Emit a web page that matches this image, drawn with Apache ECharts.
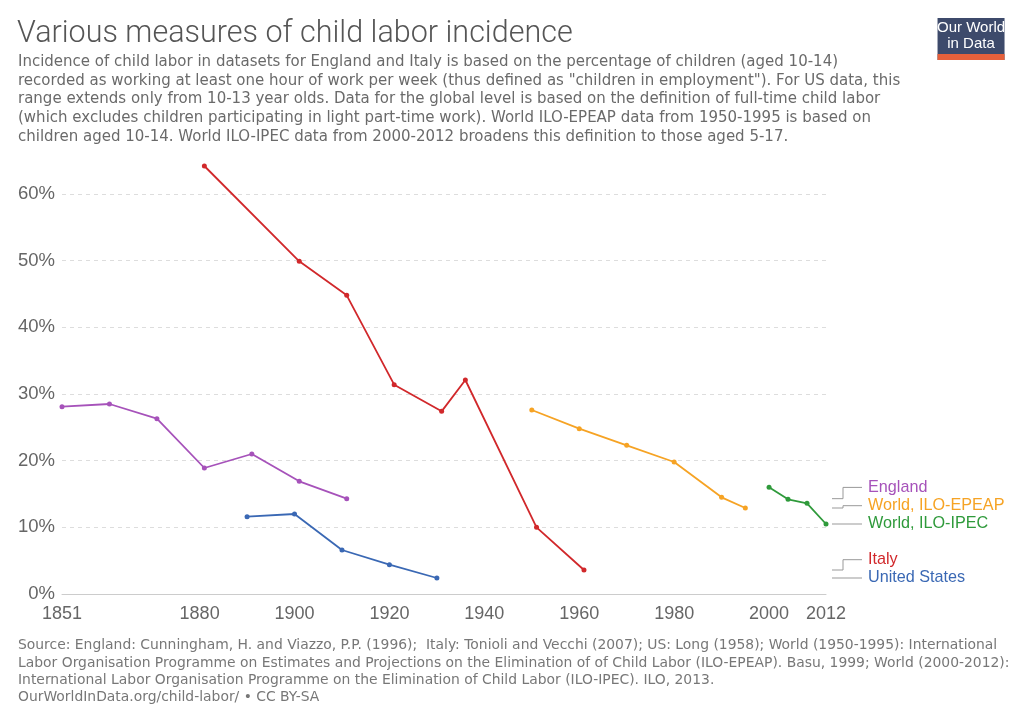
<!DOCTYPE html>
<html>
<head>
<meta charset="utf-8">
<script src="https://cdn.jsdelivr.net/npm/echarts@6/dist/echarts.min.js"></script>
<style>
html, body { margin: 0; padding: 0; background: #fff; }
#main { width: 1024px; height: 723px; }
</style>
</head>
<body>
<div id="main"></div>
<script>
// data (share of children working, %)
var englandYears = [1851, 1861, 1871, 1881, 1891, 1901, 1911];
var englandValues = [28.1, 28.5, 26.3, 18.9, 21.0, 16.9, 14.3];
var italyYears = [1881, 1901, 1911, 1921, 1931, 1936, 1951, 1961];
var italyValues = [64.2, 49.9, 44.8, 31.4, 27.4, 32.1, 10.0, 3.6];
var usYears = [1890, 1900, 1910, 1920, 1930];
var usValues = [11.6, 12.0, 6.6, 4.4, 2.4];
var epeapYears = [1950, 1960, 1970, 1980, 1990, 1995];
var epeapValues = [27.6, 24.8, 22.3, 19.8, 14.5, 12.9];
var ipecYears = [2000, 2004, 2008, 2012];
var ipecValues = [16.0, 14.2, 13.6, 10.5];

var xTicks = [1851, 1880, 1900, 1920, 1940, 1960, 1980, 2000, 2012];
var yTicks = [0, 10, 20, 30, 40, 50, 60];

var seriesNames = ['England', 'Italy', 'United States', 'World, ILO-EPEAP', 'World, ILO-IPEC'];
var seriesColors = ['#a652ba', '#d1282b', '#3a68b4', '#f6a324', '#2f9a3b'];

var subtitle = 'Incidence of child labor in datasets for England and Italy is based on the percentage of children (aged 10-14)\n' +
    'recorded as working at least one hour of work per week (thus defined as "children in employment"). For US data, this\n' +
    'range extends only from 10-13 year olds. Data for the global level is based on the definition of full-time child labor\n' +
    '(which excludes children participating in light part-time work). World ILO-EPEAP data from 1950-1995 is based on\n' +
    'children aged 10-14. World ILO-IPEC data from 2000-2012 broadens this definition to those aged 5-17.';

var footer = 'Source: England: Cunningham, H. and Viazzo, P.P. (1996);  Italy: Tonioli and Vecchi (2007); US: Long (1958); World (1950-1995): International\n' +
    'Labor Organisation Programme on Estimates and Projections on the Elimination of of Child Labor (ILO-EPEAP). Basu, 1999; World (2000-2012):\n' +
    'International Labor Organisation Programme on the Elimination of Child Labor (ILO-IPEC). ILO, 2013.\n' +
    'OurWorldInData.org/child-labor/ \u2022 CC BY-SA';

function zip(xs, ys) {
    var out = [];
    for (var i = 0; i < xs.length; i++) {
        out.push([xs[i], ys[i]]);
    }
    return out;
}

var allData = [
    zip(englandYears, englandValues),
    zip(italyYears, italyValues),
    zip(usYears, usValues),
    zip(epeapYears, epeapValues),
    zip(ipecYears, ipecValues)
];

var font = '"Liberation Sans", Arial, sans-serif';
var wideFont = '"DejaVu Sans", "Liberation Sans", sans-serif';

var series = [];
for (var s = 0; s < seriesNames.length; s++) {
    series.push({
        name: seriesNames[s],
        type: 'line',
        data: allData[s],
        clip: false,
        symbol: 'circle',
        symbolSize: 5,
        showAllSymbol: true,
        color: seriesColors[s],
        lineStyle: { width: 1.8 },
        emphasis: { disabled: true },
        z: 3
    });
}

var chart = echarts.init(document.getElementById('main'));

var option = {
    backgroundColor: '#fff',
    animation: false,
    title: [{
        text: 'Various measures of child labor incidence',
        left: 17,
        top: 19,
        padding: 0,
        textStyle: { fontFamily: 'Roboto', fontWeight: 300, fontSize: 30.5, color: '#555' }
    }, {
        text: subtitle,
        left: 18,
        top: 53,
        padding: 0,
        textStyle: { fontFamily: wideFont, fontWeight: 'normal', fontSize: 15, color: '#6a6a6a', lineHeight: 18.6 }
    }],
    grid: { left: 62, right: 198, top: 194, bottom: 129 },
    xAxis: {
        type: 'value',
        min: 1851,
        max: 2012,
        axisLine: { lineStyle: { color: '#ccc' } },
        axisTick: { show: false },
        splitLine: { show: false },
        axisLabel: {
            customValues: xTicks,
            color: '#666',
            fontFamily: font,
            fontSize: 18,
            margin: 11,
            formatter: function(v) { return String(v); }
        }
    },
    yAxis: {
        type: 'value',
        min: 0,
        max: 60,
        interval: 10,
        axisLine: { show: false },
        axisTick: { show: false },
        splitLine: { lineStyle: { color: '#ddd', type: [4, 4] } },
        axisLabel: {
            customValues: yTicks,
            color: '#666',
            fontFamily: font,
            fontSize: 18.5,
            margin: 7,
            formatter: '{value}%'
        }
    },
    series: series
};

chart.setOption(option);

// line-end labels on the right, pushed up where they would collide
var ends = [];
for (var k = 0; k < allData.length; k++) {
    var last = allData[k][allData[k].length - 1];
    var px = chart.convertToPixel({ gridIndex: 0 }, last);
    ends.push({ idx: k, y: px[1] });
}
ends.sort(function(a, b) { return b.y - a.y; });
var prevY = null;
for (var j = 0; j < ends.length; j++) {
    var ly = ends[j].y;
    if (prevY !== null && ly > prevY - 18.3) {
        ly = prevY - 18.3;
    }
    ends[j].labelY = ly;
    prevY = ly;
}

var gridRight = chart.convertToPixel({ gridIndex: 0 }, [2012, 0])[0];
var graphics = [];
for (var m = 0; m < ends.length; m++) {
    var e = ends[m];
    var elbowX = gridRight + 17;
    graphics.push({
        type: 'polyline',
        silent: true,
        shape: { points: [[gridRight + 6, e.y], [elbowX, e.y], [elbowX, e.labelY], [gridRight + 36, e.labelY]] },
        style: { stroke: '#999', lineWidth: 1, fill: null }
    });
    graphics.push({
        type: 'text',
        silent: true,
        x: gridRight + 42,
        y: e.labelY,
        style: {
            text: seriesNames[e.idx],
            fill: seriesColors[e.idx],
            font: '16.2px ' + font,
            verticalAlign: 'middle'
        }
    });
}

// logo
graphics.push({
    type: 'group',
    left: 937,
    top: 18,
    children: [
        { type: 'rect', shape: { x: 0, y: 0, width: 67, height: 42 }, style: { fill: '#3d4a6b' } },
        { type: 'rect', shape: { x: 0, y: 36, width: 67, height: 6 }, style: { fill: '#e5603b' } },
        { type: 'text', x: 33.5, y: 10, style: { text: 'Our World', fill: '#fff', font: '15px "Liberation Sans Narrow", ' + font, align: 'center', verticalAlign: 'middle' } },
        { type: 'text', x: 33.5, y: 26, style: { text: 'in Data', fill: '#fff', font: '15px "Liberation Sans Narrow", ' + font, align: 'center', verticalAlign: 'middle' } }
    ]
});

// footer
graphics.push({
    type: 'text',
    left: 18,
    top: 637,
    style: { text: footer, fill: '#777', font: '13.9px ' + wideFont, lineHeight: 17.3 }
});

chart.setOption({ graphic: graphics });
</script>
</body>
</html>
